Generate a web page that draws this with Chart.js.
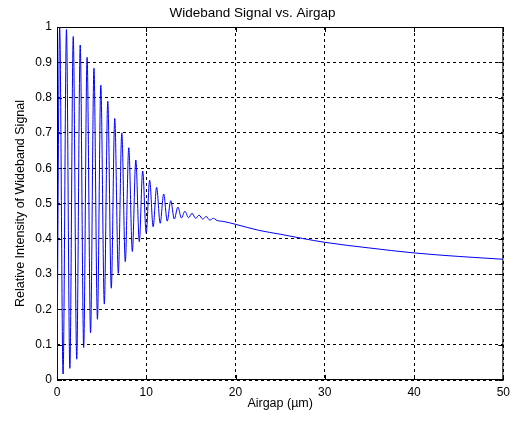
<!DOCTYPE html>
<html>
<head>
<meta charset="utf-8">
<script src="https://cdn.jsdelivr.net/npm/chart.js@4/dist/chart.umd.min.js"></script>
<style>
  html, body { margin: 0; padding: 0; background: #fff; }
  #wrap { width: 515px; height: 423px; }
</style>
</head>
<body>
<div id="wrap"><canvas id="airgap-chart"></canvas></div>
<script>
// ---------------------------- Data ---------------------------- //

// oscillating part: start point, then alternating peaks / troughs
const ripple_x = [ 0, 0.30, 0.68, 1.06, 1.44, 1.82, 2.21, 2.60, 2.99, 3.37, 3.76,
    4.14, 4.53, 4.91, 5.30, 5.69, 6.08, 6.47, 6.87, 7.26, 7.65, 8.04, 8.44,
    8.83, 9.22, 9.60, 9.99, 10.38, 10.77, 11.16, 11.56, 11.95, 12.35, 12.74,
    13.14, 13.54, 13.94, 14.33, 14.73, 15.13, 15.53, 15.92, 16.32, 16.72,
    17.12, 17.52, 17.92 ];
const ripple_y = [ 0.01, 1.00, 0.017, 0.993, 0.033, 0.973, 0.059, 0.949, 0.092, 0.914, 0.134,
    0.883, 0.172, 0.835, 0.215, 0.790, 0.260, 0.741, 0.302, 0.700, 0.335, 0.658, 0.364,
    0.623, 0.392, 0.592, 0.416, 0.566, 0.434, 0.546, 0.444, 0.527, 0.450, 0.508,
    0.456, 0.490, 0.459, 0.478, 0.460, 0.472, 0.458, 0.467, 0.456, 0.463,
    0.453, 0.458, 0.452 ];

// smooth tail
const tail_x = [ 18.7, 20, 22.6, 25, 27.5, 30, 35, 40, 45, 50 ];
const tail_y = [ 0.449, 0.441, 0.424, 0.413, 0.401, 0.390, 0.374, 0.360, 0.350, 0.342 ];

const x_ticks = [ 0, 10, 20, 30, 40, 50 ];
const y_ticks = [ 0, 0.1, 0.2, 0.3, 0.4, 0.5, 0.6, 0.7, 0.8, 0.9, 1 ];

const airgap = ripple_x.concat( tail_x );
const intensity = ripple_y.concat( tail_y );

const points = airgap.map( ( x, i ) => ( { x: x, y: intensity[ i ] } ) );

const FONT = "'Liberation Sans', Arial, sans-serif";
Chart.defaults.font.family = FONT;
Chart.defaults.color = '#000';

// box around the axes + the small inward tick marks (matlab look)
const frame_plugin = {
    id: 'frame',
    beforeDatasetsDraw( chart ) {
        const ctx = chart.ctx;
        const a = chart.chartArea;
        const sx = chart.scales.x;
        const sy = chart.scales.y;
        ctx.save();
        ctx.strokeStyle = '#000';
        ctx.lineWidth = 1;
        ctx.strokeRect( a.left + 0.5, a.top + 0.5, a.right - a.left - 1, a.bottom - a.top - 1 );
        ctx.beginPath();
        x_ticks.forEach( v => {
            const px = Math.round( sx.getPixelForValue( v ) ) + 0.5;
            ctx.moveTo( px, a.bottom );
            ctx.lineTo( px, a.bottom - 5 );
            ctx.moveTo( px, a.top );
            ctx.lineTo( px, a.top + 5 );
        } );
        y_ticks.forEach( v => {
            const py = Math.round( sy.getPixelForValue( v ) ) + 0.5;
            ctx.moveTo( a.left, py );
            ctx.lineTo( a.left + 5, py );
            ctx.moveTo( a.right, py );
            ctx.lineTo( a.right - 5, py );
        } );
        ctx.stroke();
        ctx.restore();
    }
};

new Chart( document.getElementById( 'airgap-chart' ),
{
    type: 'line',
    data: {
        datasets: [
        {
            data: points,
            borderColor: '#0000ff',
            borderWidth: 1,
            pointRadius: 0,
            fill: false,
            cubicInterpolationMode: 'monotone'
        } ]
    },
    options: {
        responsive: true,
        maintainAspectRatio: false,
        animation: false,
        events: [],
        layout: { padding: { left: 0, right: 10, top: 0, bottom: 0 } },
        scales: {
            x: {
                type: 'linear',
                min: 0,
                max: 50,
                afterFit: s => { s.height = 43; },
                afterBuildTicks: s => { s.ticks = x_ticks.map( v => ( { value: v } ) ); },
                grid: { color: '#000', lineWidth: 1, drawTicks: false },
                border: { display: false, dash: [ 3, 3 ] },
                ticks: { padding: 5, font: { size: 12 }, maxRotation: 0,
                    callback: v => String( v ) },
                title: { display: true, text: 'Airgap (µm)', font: { size: 12.5 },
                    padding: { top: 0, bottom: 12 } }
            },
            y: {
                min: 0,
                max: 1,
                afterFit: s => { s.width = 57; },
                afterBuildTicks: s => { s.ticks = y_ticks.map( v => ( { value: v } ) ); },
                grid: { color: '#000', lineWidth: 1, drawTicks: false },
                border: { display: false, dash: [ 3, 3 ] },
                ticks: { padding: 5, font: { size: 12 }, callback: v => String( v ) },
                title: { display: true, text: 'Relative Intensity of Wideband Signal',
                    font: { size: 12.5 }, padding: { top: 13, bottom: 0 } }
            }
        },
        plugins: {
            legend: { display: false },
            tooltip: { enabled: false },
            title: {
                display: true,
                text: 'Wideband Signal vs. Airgap',
                font: { size: 13.5, weight: 'normal' },
                color: '#000',
                padding: { top: 5, bottom: 5.8 }
            }
        }
    },
    plugins: [ frame_plugin ]
} );
</script>
</body>
</html>
